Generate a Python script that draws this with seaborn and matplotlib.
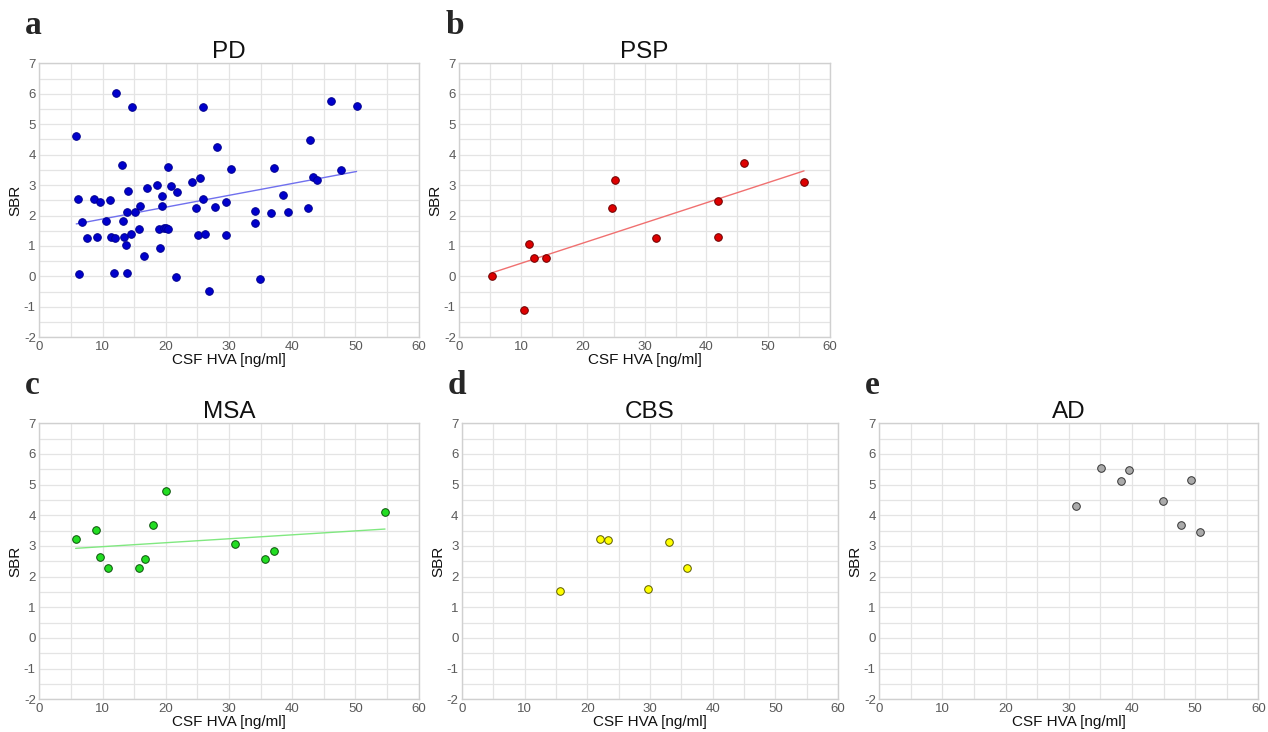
import numpy as np
import pandas as pd
import matplotlib
matplotlib.use('Agg')
import matplotlib.pyplot as plt
import seaborn as sns
from matplotlib.ticker import MultipleLocator

sns.set_theme(style='white')
plt.rcParams['font.family'] = ['Liberation Sans', 'DejaVu Sans']
plt.rcParams['axes.unicode_minus'] = False

# CSF HVA [ng/ml] and SBR per group
pd_hva = [5.85, 6.2, 6.3, 6.75, 7.5, 8.65, 9.2, 9.55, 10.5, 11.2, 11.4, 11.75, 11.95, 12.1,
          13.1, 13.2, 13.45, 13.65, 13.8, 13.9, 14.1, 14.5, 14.7, 15.15, 15.8, 15.9, 16.55,
          17.0, 18.7, 18.9, 19.05, 19.45, 19.45, 19.7, 20.05, 20.3, 20.35, 20.9, 21.8, 21.7,
          24.1, 24.85, 25.1, 25.5, 25.9, 25.9, 26.2, 26.8, 27.75, 28.15, 29.55, 29.55, 30.3,
          34.2, 34.2, 34.85, 36.7, 37.2, 38.55, 39.4, 42.55, 42.9, 43.35, 44.0, 46.1, 47.7, 50.2]
pd_sbr = [4.62, 2.54, 0.08, 1.79, 1.27, 2.55, 1.28, 2.46, 1.81, 2.52, 1.29, 0.12, 1.26, 6.03,
          3.67, 1.83, 1.30, 1.02, 0.11, 2.11, 2.79, 1.38, 5.57, 2.11, 1.55, 2.31, 0.66,
          2.89, 2.99, 1.56, 0.92, 2.64, 2.30, 1.58, 1.59, 1.56, 3.58, 2.98, 2.77, -0.03,
          3.11, 2.24, 1.35, 3.24, 5.55, 2.53, 1.40, -0.48, 2.29, 4.26, 2.43, 1.35, 3.53,
          2.14, 1.74, -0.09, 2.07, 3.57, 2.67, 2.11, 2.25, 4.47, 3.28, 3.16, 5.75, 3.51, 5.61]

psp_hva = [5.34, 10.47, 11.33, 12.09, 14.03, 24.7, 25.2, 31.8, 41.8, 41.8, 46.1, 55.8]
psp_sbr = [0.0, -1.10, 1.08, 0.59, 0.60, 2.26, 3.17, 1.25, 2.49, 1.31, 3.71, 3.10]

msa_hva = [5.75, 8.97, 9.65, 10.8, 15.7, 16.65, 17.95, 20.05, 30.95, 35.7, 37.2, 54.7]
msa_sbr = [3.24, 3.51, 2.65, 2.28, 2.28, 2.58, 3.68, 4.80, 3.05, 2.58, 2.83, 4.10]

cbs_hva = [15.7, 22.1, 23.3, 29.7, 33.0, 35.9]
cbs_sbr = [1.52, 3.23, 3.18, 1.61, 3.12, 2.27]

ad_hva = [31.1, 35.1, 38.2, 39.6, 44.95, 47.75, 49.3, 50.7]
ad_sbr = [4.31, 5.54, 5.12, 5.48, 4.47, 3.70, 5.14, 3.46]

panels = [
    # letter, title, x, y, fill, edge, line colour or None, axes box in pixels (left, top, right, bottom)
    ('a', 'PD', pd_hva, pd_sbr, '#0000cc', '#000090', '#7070ee', (39.3, 63.3, 418.5, 337.3)),
    ('b', 'PSP', psp_hva, psp_sbr, '#dd0000', '#6b0000', '#f07070', (459.3, 63.3, 830.0, 337.3)),
    ('c', 'MSA', msa_hva, msa_sbr, '#22dd22', '#0a500a', '#80e880', (39.3, 423.3, 418.5, 699.3)),
    ('d', 'CBS', cbs_hva, cbs_sbr, '#ffff00', '#5a5a00', None, (462.0, 423.3, 838.0, 699.3)),
    ('e', 'AD', ad_hva, ad_sbr, '#aaaaaa', '#333333', None, (879.3, 423.3, 1258.3, 699.3)),
]

W, H = 1268, 732
fig = plt.figure(figsize=(W / 100, H / 100), dpi=100)

for letter, title, x, y, fill, edge, line_col, (l, t, r, b) in panels:
    ax = fig.add_axes([l / W, 1 - b / H, (r - l) / W, (b - t) / H])
    df = pd.DataFrame({'hva': x, 'sbr': y})
    if line_col is not None:
        sns.regplot(data=df, x='hva', y='sbr', scatter=False, ci=None, ax=ax,
                    line_kws={'color': line_col, 'lw': 1.0})
    sns.scatterplot(data=df, x='hva', y='sbr', ax=ax, color=fill, edgecolor=edge,
                    linewidth=0.7, s=30, zorder=3)
    ax.set_xlim(0, 60)
    ax.set_ylim(-2, 7)
    ax.xaxis.set_major_locator(MultipleLocator(10))
    ax.xaxis.set_minor_locator(MultipleLocator(5))
    ax.yaxis.set_major_locator(MultipleLocator(1))
    ax.yaxis.set_minor_locator(MultipleLocator(0.5))
    ax.grid(True, which='both', color='#e4e4e4', lw=0.9)
    ax.set_axisbelow(True)
    for sp in ax.spines.values():
        sp.set_color('#d0d0d0')
        sp.set_linewidth(1.0)
    ax.tick_params(axis='both', which='both', length=0, labelsize=9.5,
                   labelcolor='#5a5a5a', pad=2.5)
    ax.set_xlabel('CSF HVA [ng/ml]', fontsize=11, color='#111111', labelpad=0)
    ax.set_ylabel('SBR', fontsize=11, color='#111111')
    ax.yaxis.set_label_coords(-17 / (r - l), 0.5)
    ax.set_title(title, fontsize=17.5, color='#111111', pad=4)
    fig.text((l - 14) / W, 1 - (t - 38) / H, letter, fontsize=24, fontweight='bold',
             family='Liberation Serif', ha='left', va='center')

fig.savefig('out.png', dpi=100)
